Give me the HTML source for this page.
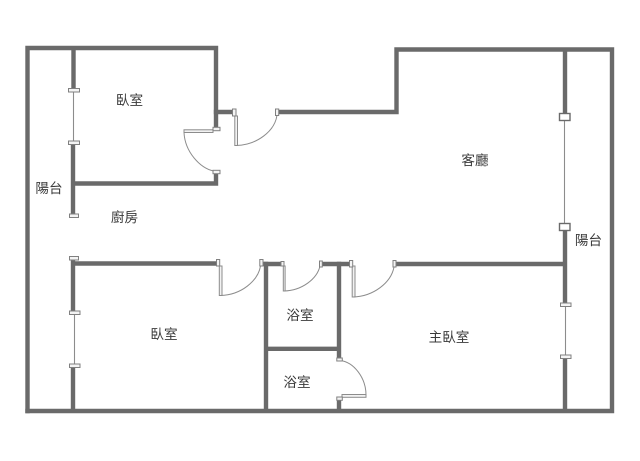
<!DOCTYPE html>
<html><head><meta charset="utf-8">
<style>
html,body{margin:0;padding:0;background:#fff;width:640px;height:461px;overflow:hidden}
svg{display:block;filter:blur(0.35px)}
.w{stroke:#6a6a6a;stroke-width:4.4;fill:none;stroke-linecap:square}
.f{fill:#f4f4f4;stroke:#808080;stroke-width:1}
.l{fill:#f2f2f2;stroke:#8c8c8c;stroke-width:1}
.a{fill:none;stroke:#8c8c8c;stroke-width:1}
.t{stroke:#8c8c8c;stroke-width:1.1;fill:none}
text{font-family:"Liberation Sans","Noto Sans CJK TC",sans-serif;font-size:13.6px;fill:#3a3a3a;text-anchor:middle}
</style></head><body>
<svg width="640" height="461" viewBox="0 0 640 461" xmlns="http://www.w3.org/2000/svg">
<rect width="640" height="461" fill="#fff"/>
<!-- walls -->
<path class="w" d="M27.5 411V48H216V128"/>
<path class="w" d="M216 112H231"/>
<path class="w" d="M280 112H396.500V49.500H612V411H27.500"/>
<path class="w" d="M73.500 50V88"/>
<path class="w" d="M73 145V213"/>
<path class="w" d="M75 183.500H216V173"/>
<path class="w" d="M565 50V112"/>
<path class="w" d="M565 232V303"/>
<path class="w" d="M565 359V410"/>
<path class="w" d="M73 261V311"/>
<path class="w" d="M73 367V410"/>
<path class="w" d="M75 263.500H214"/>
<path class="w" d="M266 264V410"/>
<path class="w" d="M264 264H279"/>
<path class="w" d="M324 264H348"/>
<path class="w" d="M398 264H563"/>
<path class="w" d="M339 264V357"/>
<path class="w" d="M268 348.800H338"/>
<path class="w" d="M339 401V410"/>
<!-- windows -->
<path class="t" d="M73.500 92V141"/>
<path class="t" d="M564.500 120V223"/>
<path class="t" d="M74.500 314V364"/>
<path class="t" d="M565.500 306V355"/>
<rect class="f" x="68.500" y="88.500" width="11" height="3.500"/>
<rect class="f" x="68.500" y="141" width="11" height="3.500"/>
<rect class="f" x="69.500" y="214" width="9" height="3.500"/>
<rect class="f" x="69.500" y="256.500" width="9" height="3.500"/>
<rect class="f" x="69.500" y="311" width="10.500" height="3.500"/>
<rect class="f" x="69.500" y="364" width="10.500" height="3.500"/>
<rect x="559.500" y="113.500" width="10.500" height="7" fill="#fff" stroke="#6a6a6a" stroke-width="1.400"/>
<rect x="559.500" y="223.500" width="10.500" height="7" fill="#fff" stroke="#6a6a6a" stroke-width="1.400"/>
<rect class="f" x="560.500" y="303" width="10.500" height="3.500"/>
<rect class="f" x="560.500" y="355" width="10.500" height="3.500"/>
<!-- door: upper bedroom -->
<rect class="l" x="184" y="129.800" width="29" height="2.700"/>
<path class="a" d="M184 132.500C185 152 200 168 213.500 171"/>
<rect class="f" x="213" y="127.300" width="7" height="3.400"/>
<rect class="f" x="213" y="170.300" width="7" height="3.400"/>
<!-- door: entry -->
<rect class="l" x="234.800" y="116" width="2.700" height="29.500"/>
<path class="a" d="M236 145.500C257 145 275 131 277 115"/>
<rect class="f" x="232.500" y="109" width="3.500" height="7"/>
<rect class="f" x="275.500" y="109" width="3.200" height="6.500"/>
<!-- door: lower bedroom -->
<rect class="l" x="219.300" y="266" width="2.700" height="29.500"/>
<path class="a" d="M220.500 295.500C241 295 258 281 260.500 266"/>
<rect class="f" x="216.500" y="259.500" width="3.200" height="6.500"/>
<rect class="f" x="259.800" y="259.500" width="3.200" height="6.500"/>
<!-- door: bath 1 -->
<rect class="l" x="283.300" y="266" width="1.800" height="25"/>
<path class="a" d="M284 291C302 290.500 317 279 320 266"/>
<rect class="f" x="281" y="261.500" width="3" height="4.500"/>
<rect class="f" x="319.500" y="261" width="2.800" height="6"/>
<!-- door: master -->
<rect class="l" x="352.200" y="266" width="2.800" height="31"/>
<path class="a" d="M353 297C373 296.500 391 283 394 267"/>
<rect class="f" x="349.500" y="260.500" width="3.200" height="6.500"/>
<rect class="f" x="393" y="260.500" width="3" height="6.500"/>
<!-- door: bath 2 -->
<rect class="l" x="342" y="394.500" width="24" height="2.800"/>
<path class="a" d="M340 360.500C354 362 366 378 366 395"/>
<rect class="f" x="336.800" y="358" width="5.500" height="3"/>
<rect class="f" x="336.800" y="397" width="5.500" height="3.300"/>
<!-- labels -->
<text x="129.500" y="105">臥室</text>
<text x="475" y="165">客廳</text>
<text x="49" y="193">陽台</text>
<text x="124.500" y="222">廚房</text>
<text x="588.500" y="245">陽台</text>
<text x="164" y="339">臥室</text>
<text x="300" y="320">浴室</text>
<text x="297" y="387">浴室</text>
<text x="449" y="342">主臥室</text>
</svg>
</body></html>
